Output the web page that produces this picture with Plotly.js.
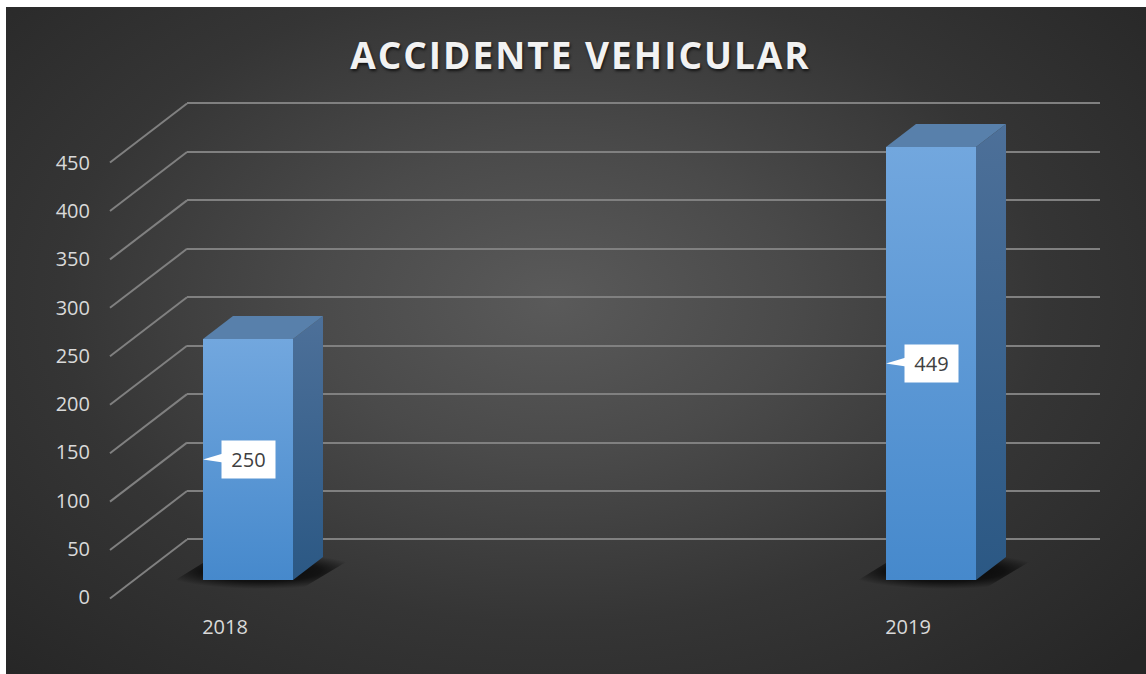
<!DOCTYPE html>
<html>
<head>
<meta charset="utf-8">
<script src="https://cdn.plot.ly/plotly-3.0.1.min.js"></script>
<style>
  html, body { margin: 0; padding: 0; background: #ffffff; }
  #bg {
    position: absolute; left: 6px; top: 7px; width: 1140px; height: 667px;
    background: radial-gradient(ellipse 70% 78% at 48% 44%, #5a5a5a 0%, #4a4a4a 30%, #353535 62%, #262626 100%);
  }
  #chart { position: absolute; left: 0; top: 0; width: 1146px; height: 674px; }
  #chart .gtitle { letter-spacing: 2px; }
</style>
</head>
<body>
<div id="bg"></div>
<div id="chart"></div>
<script>
// ---- data ----
const chartTitle = 'ACCIDENTE VEHICULAR';
const categories = ['2018', '2019'];
const accidentes = [250, 449];
const yTickValues = [0, 50, 100, 150, 200, 250, 300, 350, 400, 450];

// ---- layout geometry (pixels) ----
const W = 1146, H = 674;
const fx = p => p / W;
const fy = p => 1 - p / H;

// back wall
const WALL_X = [187, 1100];
const WALL_Y0 = 539.5, WALL_K = 0.9689;   // px per value unit on the wall
const WALL_MAX = 470;

// bar plane
const BAR_CENTER_PX = [248, 931];
const UX = BAR_CENTER_PX[1] - BAR_CENTER_PX[0];      // px per x unit
const KY = 0.9645;                                     // px per value unit
const ZERO_PX = 580;
const X2PX = [100, 1140];
const Y2PX = [602, 100];                              // bottom, top
const x2range = [(X2PX[0] - BAR_CENTER_PX[0]) / UX, (X2PX[1] - BAR_CENTER_PX[0]) / UX];
const y2range = [(ZERO_PX - Y2PX[0]) / KY, (ZERO_PX - Y2PX[1]) / KY];

const hw = 45 / UX;           // half bar width
const dX = 30 / UX;           // depth offset
const dY = 23 / KY;
const px = p => p / UX;
const py = p => p / KY;
// wall point (pixels) expressed in bar-plane units
const wallXu = (WALL_X[0] - BAR_CENTER_PX[0]) / UX;
const wallYu = v => (ZERO_PX - (WALL_Y0 - v * WALL_K)) / KY;
const AXIS_X_PX = 110;
const axisXu = (AXIS_X_PX - BAR_CENTER_PX[0]) / UX;
const DIAG_DY = 59;

const xIdx = categories.map((c, i) => i);
const traces = [];

// back-wall subplot carrier (keeps the gridline subplot drawn)
traces.push({
  type: 'scatter', mode: 'markers', xaxis: 'x', yaxis: 'y', x: [0.5], y: [0],
  marker: {opacity: 0, size: 1}, hoverinfo: 'skip', showlegend: false
});

// diagonal side lines, one per gridline
yTickValues.forEach(v => {
  traces.push({
    type: 'scatter', mode: 'lines', xaxis: 'x2', yaxis: 'y2', hoverinfo: 'skip', showlegend: false,
    x: [axisXu, wallXu], y: [wallYu(v) - py(DIAG_DY), wallYu(v)],
    line: {color: '#808080', width: 2}
  });
});

// shadows
xIdx.forEach((c, i) => {
  traces.push({
    type: 'scatter', mode: 'lines', xaxis: 'x2', yaxis: 'y2', hoverinfo: 'skip', showlegend: false,
    x: [c - hw - px(42), c + hw + px(8), c + hw + dX + px(38), c - hw + dX - px(14)],
    y: [py(-9), py(-9), dY + py(4), dY + py(4)],
    fill: 'toself', line: {width: 0, color: 'rgba(0,0,0,0)'},
    fillgradient: {type: 'radial', colorscale: [[0, 'rgba(0,0,0,0.9)'], [0.6, 'rgba(0,0,0,0.65)'], [1, 'rgba(0,0,0,0)']]}
  });
});

// bars (front faces)
traces.push({
  type: 'bar', xaxis: 'x2', yaxis: 'y2', x: xIdx, y: accidentes, width: 2 * hw,
  marker: {color: '#5b99d6', line: {width: 0}}, hoverinfo: 'x+y', showlegend: false
});

xIdx.forEach((c, i) => {
  const v = accidentes[i];
  // front gradient
  traces.push({
    type: 'scatter', mode: 'lines', xaxis: 'x2', yaxis: 'y2', hoverinfo: 'skip', showlegend: false,
    x: [c - hw, c + hw, c + hw, c - hw], y: [0, 0, v, v],
    fill: 'toself', line: {width: 0, color: 'rgba(0,0,0,0)'},
    fillgradient: {type: 'vertical', colorscale: [[0, '#4689cc'], [1, '#72a7de']]}
  });
  // side face
  traces.push({
    type: 'scatter', mode: 'lines', xaxis: 'x2', yaxis: 'y2', hoverinfo: 'skip', showlegend: false,
    x: [c + hw, c + hw + dX, c + hw + dX, c + hw], y: [0, dY, v + dY, v],
    fill: 'toself', line: {width: 0, color: 'rgba(0,0,0,0)'},
    fillgradient: {type: 'vertical', colorscale: [[0, '#2b5884'], [1, '#4d7099']]}
  });
  // top face
  traces.push({
    type: 'scatter', mode: 'lines', xaxis: 'x2', yaxis: 'y2', hoverinfo: 'skip', showlegend: false,
    x: [c - hw, c + hw, c + hw + dX, c - hw + dX], y: [v, v, v + dY, v + dY],
    fill: 'toself', line: {width: 0, color: 'rgba(0,0,0,0)'}, fillcolor: '#5880ab'
  });
  // label callout wedge
  traces.push({
    type: 'scatter', mode: 'lines', xaxis: 'x2', yaxis: 'y2', hoverinfo: 'skip', showlegend: false,
    x: [c - hw, c - hw + px(20), c - hw + px(20)], y: [v / 2, v / 2 + py(6), v / 2 - py(3)],
    fill: 'toself', line: {width: 0, color: 'rgba(0,0,0,0)'}, fillcolor: '#ffffff'
  });
});

const annotations = xIdx.map((c, i) => ({
  xref: 'x2', yref: 'y2', x: c, y: accidentes[i] / 2, text: String(accidentes[i]),
  showarrow: false, bgcolor: '#ffffff', width: 53, height: 37, borderpad: 0,
  font: {family: 'Open Sans', size: 20, color: '#404040'}
}));

const layout = {
  width: W, height: H,
  margin: {l: 0, r: 0, t: 0, b: 0, pad: 0},
  paper_bgcolor: 'rgba(0,0,0,0)', plot_bgcolor: 'rgba(0,0,0,0)',
  showlegend: false,
  title: {
    text: chartTitle, x: fx(580.5), xanchor: 'center', y: fy(56), yanchor: 'middle',
    font: {family: 'Open Sans', size: 37, weight: 700, color: '#f2f2f2', shadow: '1px 2px 3px rgba(0,0,0,0.7)'}
  },
  // back wall
  xaxis: {domain: [fx(WALL_X[0]), fx(WALL_X[1])], range: [0, 1], visible: false, fixedrange: true, anchor: 'y'},
  yaxis: {
    domain: [fy(WALL_Y0), fy(WALL_Y0 - WALL_MAX * WALL_K)], range: [0, WALL_MAX], tickvals: yTickValues,
    anchor: 'x',
    showgrid: true, gridcolor: '#808080', gridwidth: 2,
    zeroline: true, zerolinecolor: '#808080', zerolinewidth: 2,
    showticklabels: false, ticks: '', showline: false, fixedrange: true
  },
  // bar plane
  xaxis2: {
    domain: [fx(X2PX[0]), fx(X2PX[1])], range: x2range, anchor: 'y2',
    tickvals: xIdx, ticktext: categories, ticks: '', showgrid: false, zeroline: false, showline: false,
    ticklabelshift: -23, ticklabelstandoff: 11,
    tickfont: {family: 'Open Sans', size: 20, color: '#d9d9d9'}, fixedrange: true
  },
  yaxis2: {
    domain: [fy(Y2PX[0]), fy(Y2PX[1])], range: y2range, anchor: 'free', position: fx(AXIS_X_PX), side: 'left',
    tickvals: yTickValues, ticks: '', showgrid: false, zeroline: false, showline: false,
    ticklabelshift: 17, ticklabelstandoff: 20,
    tickfont: {family: 'Open Sans', size: 20, color: '#d9d9d9'}, fixedrange: true
  },
  annotations: annotations
};

Plotly.newPlot('chart', traces, layout, {displayModeBar: false, staticPlot: true});
</script>
</body>
</html>
